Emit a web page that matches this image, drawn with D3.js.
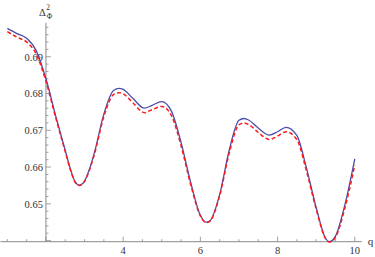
<!DOCTYPE html>
<html>
<head>
<meta charset="utf-8">
<script src="https://cdn.jsdelivr.net/npm/d3@7"></script>
<style>
  html, body { margin: 0; padding: 0; background: #fff; }
  svg { display: block; }
  text { font-family: "Liberation Serif", "DejaVu Serif", serif; }
</style>
</head>
<body>
<script>
// ---- data ----
const qValues = [1.00,1.25,1.50,1.75,2.00,2.25,2.50,2.65,2.75,2.86,3.00,3.12,3.25,3.50,3.75,3.90,4.00,4.25,4.55,4.75,5.00,5.25,5.50,5.75,6.00,6.15,6.25,6.50,6.75,7.00,7.13,7.25,7.50,7.79,8.00,8.22,8.50,8.75,9.00,9.25,9.34,9.50,9.75,10.00];
const blueSeries = [0.6977,0.6963,0.6950,0.6916,0.6840,0.6740,0.6645,0.6589,0.6561,0.6551,0.6562,0.6592,0.6637,0.6744,0.6808,0.6814,0.6811,0.6787,0.6760,0.6768,0.6778,0.6752,0.6667,0.6558,0.6469,0.6450,0.6454,0.6525,0.6647,0.6727,0.6732,0.6728,0.6706,0.6687,0.6696,0.6708,0.6686,0.6597,0.6490,0.6405,0.6397,0.6412,0.6500,0.6622];
const redSeries  = [0.6968,0.6953,0.6940,0.6907,0.6833,0.6735,0.6642,0.6587,0.6560,0.6550,0.6561,0.6590,0.6633,0.6737,0.6797,0.6802,0.6799,0.6775,0.6748,0.6756,0.6765,0.6740,0.6658,0.6552,0.6467,0.6449,0.6453,0.6522,0.6639,0.6715,0.6720,0.6716,0.6694,0.6675,0.6684,0.6696,0.6675,0.6589,0.6486,0.6404,0.6396,0.6409,0.6491,0.6605];
const xMajorTicks = [4, 6, 8, 10];
const yMajorTicks = [0.65, 0.66, 0.67, 0.68, 0.69];
const xLabel = "q";

const W = 375, H = 257;
const svg = d3.select("body").append("svg").attr("width", W).attr("height", H);

const x = d3.scaleLinear().domain([0.82, 10.18]).range([0.4, 361.7]);
const y = d3.scaleLinear().domain([0.6397, 0.6992]).range([241.7, 22.9]);

const axisColor = "#8a8a8a";
const x0 = x(2), y0 = y(0.6397);

// x axis line
svg.append("line").attr("x1", x.range()[0]).attr("x2", x.range()[1])
  .attr("y1", y0).attr("y2", y0).attr("stroke", axisColor).attr("stroke-width", 1);
// y axis line
svg.append("line").attr("x1", x0).attr("x2", x0)
  .attr("y1", y.range()[0]).attr("y2", y.range()[1]).attr("stroke", axisColor).attr("stroke-width", 1);

// x ticks (minor every 0.5, major every 2)
const xMinor = d3.range(1, 10.01, 0.5);
svg.append("g").selectAll("line").data(xMinor).join("line")
  .attr("x1", d => x(d)).attr("x2", d => x(d))
  .attr("y1", y0).attr("y2", d => y0 - (Math.abs(d % 2) < 1e-9 ? 5 : 2.5))
  .attr("stroke", axisColor).attr("stroke-width", 0.8);
svg.append("g").selectAll("text").data(xMajorTicks).join("text")
  .attr("x", d => x(d)).attr("y", y0 + 12.5)
  .attr("text-anchor", "middle").attr("font-size", 10.5).attr("fill", "#333")
  .text(d => d);

// y ticks (minor every 0.002, major every 0.01)
const yMinor = d3.range(0, 30).map(i => +(0.640 + i * 0.002).toFixed(3));
svg.append("g").selectAll("line").data(yMinor).join("line")
  .attr("x1", x0).attr("x2", d => x0 + (Math.round(d * 1000) % 10 === 0 ? 5 : 2.5))
  .attr("y1", d => y(d)).attr("y2", d => y(d))
  .attr("stroke", axisColor).attr("stroke-width", 0.8);
svg.append("g").selectAll("text").data(yMajorTicks).join("text")
  .attr("x", x0 - 3).attr("y", d => y(d) + 3.8)
  .attr("text-anchor", "end").attr("font-size", 10.5).attr("fill", "#333")
  .text(d => d.toFixed(2));

// axis labels
svg.append("text").attr("x", x(10.18) + 6).attr("y", y0 + 3.5)
  .attr("font-size", 11).attr("fill", "#333").text(xLabel);
const lab = svg.append("text").attr("x", x0 - 7).attr("y", 16)
  .attr("font-size", 10.5).attr("fill", "#333");
lab.append("tspan").text("Δ");
lab.append("tspan").attr("dx", 1).attr("dy", 3).attr("font-size", 7.5).text("Φ");
lab.append("tspan").attr("dx", -6).attr("dy", -9).attr("font-size", 7.5).text("2");

// curves
const line = d3.line().x((d, i) => x(qValues[i])).y(d => y(d)).curve(d3.curveMonotoneX);
svg.append("path").attr("d", line(blueSeries))
  .attr("fill", "none").attr("stroke", "#4c4cab").attr("stroke-width", 1.3);
svg.append("path").attr("d", line(redSeries))
  .attr("fill", "none").attr("stroke", "#ff1a1a").attr("stroke-width", 1.5)
  .attr("stroke-dasharray", "4,2.5");
</script>
</body>
</html>
